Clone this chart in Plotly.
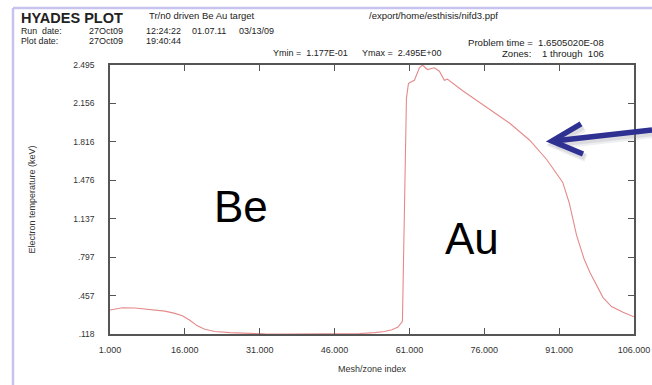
import plotly.graph_objects as go

# Electron temperature profile across the Be/Au target
zone_index = [1, 2, 3.5, 6, 9, 12, 14, 15.5, 17, 18.5, 20, 22, 25, 28, 32, 36, 40, 44, 48,
              51, 54, 56, 57.5, 58.7, 59.6, 60.0, 60.4, 60.8, 61.1, 62.0, 62.5, 63.0, 63.6,
              64.6, 66.0, 67.0, 68.0, 68.6, 71.6, 76.4, 81.1, 85.1, 88.5, 91.7, 93.0, 94.5,
              96.0, 97.2, 98.5, 99.8, 101.5, 103.8, 106]
te_kev = [0.33, 0.34, 0.35, 0.348, 0.335, 0.32, 0.30, 0.28, 0.24, 0.19, 0.16, 0.14, 0.13,
          0.124, 0.119, 0.118, 0.118, 0.118, 0.119, 0.122, 0.13, 0.14, 0.155, 0.18, 0.23,
          1.2, 2.2, 2.33, 2.34, 2.36, 2.42, 2.47, 2.495, 2.455, 2.47, 2.44, 2.36, 2.37,
          2.27, 2.12, 1.98, 1.83, 1.66, 1.46, 1.28, 0.99, 0.78, 0.66, 0.55, 0.44, 0.36,
          0.31, 0.27]

x_ticks = [1, 16, 31, 46, 61, 76, 91, 106]
x_tick_text = ["1.000", "16.000", "31.000", "46.000", "61.000", "76.000", "91.000", "106.000"]
y_ticks = [0.118, 0.457, 0.797, 1.137, 1.476, 1.816, 2.156, 2.495]
y_tick_text = [".118", ".457", ".797", "1.137", "1.476", "1.816", "2.156", "2.495"]

W, H = 652, 385
L, R, T, B = 110, 634, 65, 334
FONT = "Liberation Sans, Arial, sans-serif"


def px(x):
    return (x - L) / (R - L)


def py(y):
    return (B - y) / (B - T)


fig = go.Figure()
fig.add_trace(go.Scatter(x=zone_index, y=te_kev, mode="lines",
                         line=dict(color="#e58a8a", width=1.1), hoverinfo="skip"))

axis_common = dict(showline=True, linecolor="#555555", linewidth=1.5, mirror="ticks",
                   ticks="inside", ticklen=6, tickcolor="#555555", tickwidth=1,
                   showgrid=False, zeroline=False, automargin=False)

fig.update_layout(
    width=W, height=H,
    margin=dict(l=L, r=W - R, t=T, b=H - B),
    paper_bgcolor="white", plot_bgcolor="white",
    showlegend=False,
    xaxis=dict(range=[1, 106], tickvals=x_ticks, ticktext=x_tick_text,
               tickfont=dict(family=FONT, size=9, color="#333333"), ticklabelstandoff=6,
               title=dict(text="Mesh/zone index", font=dict(family=FONT, size=9, color="#333"),
                          standoff=12),
               **axis_common),
    yaxis=dict(range=[0.118, 2.495], tickvals=y_ticks, ticktext=y_tick_text,
               tickfont=dict(family=FONT, size=8.5, color="#333333"), ticklabelstandoff=12,
               title=dict(text="Electron temperature (keV)",
                          font=dict(family=FONT, size=9, color="#333"), standoff=36),
               **axis_common),
)


# header text
def text(x, y, s, size=9.0, bold=False, anchor="left"):
    fig.add_annotation(x=px(x), y=py(y), xref="paper", yref="paper",
                       text=("<b>" + s + "</b>") if bold else s,
                       showarrow=False, xanchor=anchor, yanchor="middle", borderpad=0,
                       font=dict(family=FONT, size=size, color="#222222"))


text(20, 18, "HYADES PLOT", size=14.5, bold=True)
text(148, 16, "Tr/n0 driven Be Au target", size=9.5)
text(368, 15, "/export/home/esthisis/nifd3.ppf", size=9.5)
text(20, 31, "Run  date:", size=8.8)
text(88, 31, "27Oct09", size=9)
text(145, 31, "12:24:22", size=9)
text(191, 31, "01.07.11", size=9)
text(238, 31, "03/13/09", size=9)
text(20, 41, "Plot date:", size=8.8)
text(88, 41, "27Oct09", size=9)
text(145, 41, "19:40:44", size=9)
text(272, 53, "Ymin =  1.177E-01", size=9)
text(361, 53, "Ymax =  2.495E+00", size=9)
text(605, 42, "Problem time =  1.6505020E-08", size=9.6, anchor="right")
text(605, 53, "Zones:    1 through  106", size=9.6, anchor="right")

# material labels
fig.add_annotation(x=px(241), y=py(206), xref="paper", yref="paper", text="Be",
                   showarrow=False, xanchor="center", yanchor="middle",
                   font=dict(family=FONT, size=44, color="black"))
fig.add_annotation(x=px(472), y=py(238), xref="paper", yref="paper", text="Au",
                   showarrow=False, xanchor="center", yanchor="middle",
                   font=dict(family=FONT, size=44, color="black"))

shapes = []
# lavender frame
frame = "#c6c4ef"
shapes.append(dict(type="line", xref="paper", yref="paper", x0=px(13), x1=px(13),
                   y0=py(8), y1=py(385), line=dict(color=frame, width=2.5)))
shapes.append(dict(type="line", xref="paper", yref="paper", x0=px(13), x1=px(652),
                   y0=py(8), y1=py(8), line=dict(color=frame, width=2.5)))


# pointer arrow with a soft shadow
def arrow_paths(dx=0, dy=0):
    shaft = [(652, 130), (554, 141)]
    head = [(581, 124), (552, 141), (583, 154)]

    def fmt(pts):
        return "M " + " L ".join("{:.4f},{:.4f}".format(px(a + dx), py(b + dy)) for a, b in pts)

    return fmt(shaft), fmt(head)


for dx, dy, col, w, op in [(3, 4, "#9a9aa8", 8, 0.15), (2, 3, "#8a8a98", 6, 0.18),
                           (0, 0, "#2e3192", 5.5, 1.0)]:
    for p in arrow_paths(dx, dy):
        shapes.append(dict(type="path", xref="paper", yref="paper", path=p,
                           line=dict(color=col, width=w), opacity=op))

fig.update_layout(shapes=shapes)
fig.write_html("out.html")
